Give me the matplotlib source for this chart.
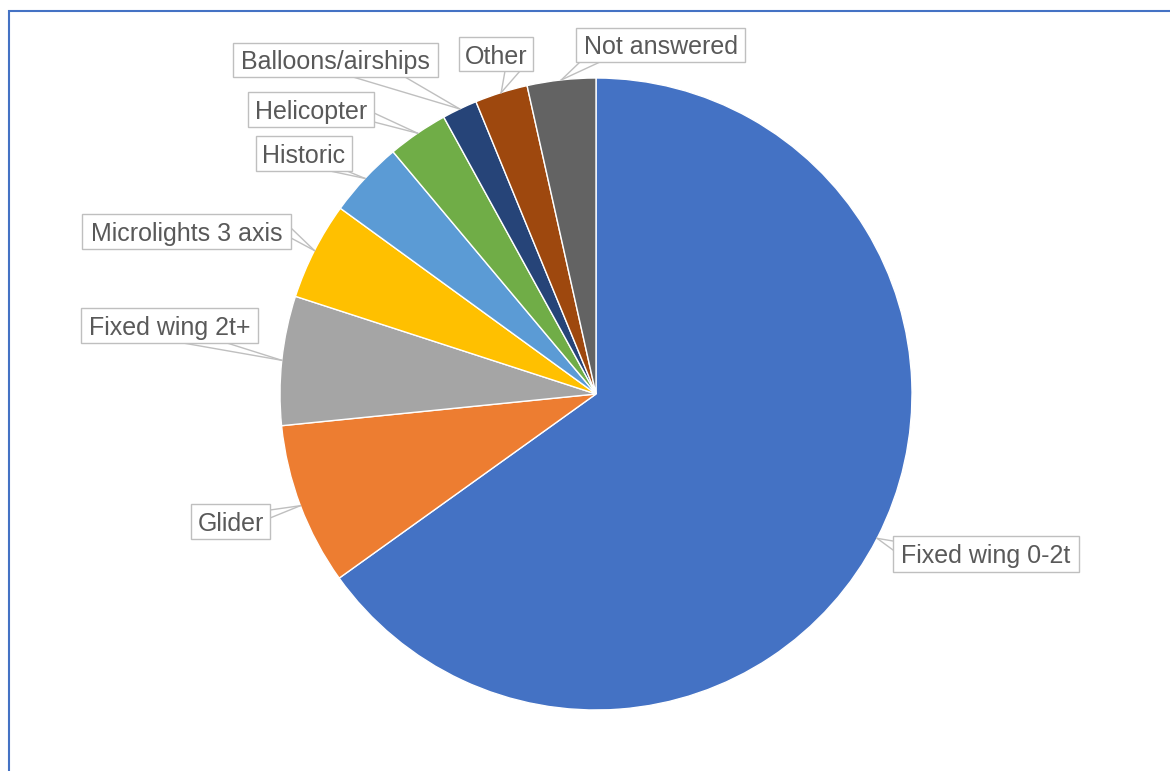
import numpy as np
import matplotlib
matplotlib.use("Agg")
import matplotlib.pyplot as plt
from matplotlib.patches import Rectangle

plt.rcParams['font.family'] = ['Liberation Sans', 'DejaVu Sans']

# --- Data: aircraft type share (%) ---
categories = ["Fixed wing 0-2t", "Glider", "Fixed wing 2t+", "Microlights 3 axis",
              "Historic", "Helicopter", "Balloons/airships", "Other", "Not answered"]
shares = [65.1, 8.3, 6.6, 5.0, 3.9, 3.1, 1.8, 2.7, 3.5]
colors = ["#4472C4", "#ED7D31", "#A5A5A5", "#FFC000", "#5B9BD5",
          "#70AD47", "#264478", "#9E480E", "#636363"]

# --- Layout (pixels, origin top-left) ---
W, H = 1170, 771
center_px = (596, 394)
radius_px = 316

# label box (x0, y0, x1, y1) and the two points where the pointer leaves the box
label_boxes = {
    "Fixed wing 0-2t":    ((893, 536, 1079, 572), ((893, 541), (893, 550))),
    "Glider":             ((191, 504, 270, 539), ((270, 510), (270, 518))),
    "Fixed wing 2t+":     ((81, 308, 258, 343), ((183, 343), (227, 343))),
    "Microlights 3 axis": ((82, 214, 291, 249), ((291, 228), (291, 238))),
    "Historic":           ((256, 136, 352, 171), ((330, 171), (347, 171))),
    "Helicopter":         ((248, 92, 374, 127), ((374, 113), (374, 122))),
    "Balloons/airships":  ((233, 43, 438, 77), ((353, 77), (405, 77))),
    "Other":              ((459, 37, 533, 71), ((505, 71), (520, 71))),
    "Not answered":       ((576, 28, 745, 62), ((580, 62), (600, 62))),
}


def fy(y):
    # pixel row -> data y
    return H - y


fig = plt.figure(figsize=(W / 100, H / 100), dpi=100)
ax = fig.add_axes([0, 0, 1, 1])

wedges, _ = ax.pie(shares, colors=colors, startangle=90, counterclock=False,
                   center=(center_px[0], fy(center_px[1])), radius=radius_px,
                   wedgeprops=dict(edgecolor="white", linewidth=1.0))

line_col = "#BFBFBF"
for w, name in zip(wedges, categories):
    mid = np.deg2rad((w.theta1 + w.theta2) / 2)
    tip = (w.center[0] + w.r * np.cos(mid), w.center[1] + w.r * np.sin(mid))
    (x0, y0, x1, y1), (b1, b2) = label_boxes[name]
    for bx, by in (b1, b2):
        ax.plot([bx, tip[0]], [fy(by), tip[1]], color=line_col, lw=1.0, zorder=3)
    ax.add_patch(Rectangle((x0, fy(y1)), x1 - x0, y1 - y0, facecolor="white",
                           edgecolor=line_col, lw=1.0, zorder=4))
    ax.text((x0 + x1) / 2, fy((y0 + y1) / 2), name, ha="center", va="center_baseline",
            fontsize=18, color="#595959", zorder=5)

# chart area border
ax.add_patch(Rectangle((9, fy(H + 20)), W + 20, H + 20 - 11, facecolor="none",
                       edgecolor="#4472C4", lw=1.5, zorder=6))

ax.set_xlim(0, W)
ax.set_ylim(0, H)
ax.set_aspect("equal")
ax.axis("off")

fig.savefig("out.png", dpi=100, facecolor="white")
